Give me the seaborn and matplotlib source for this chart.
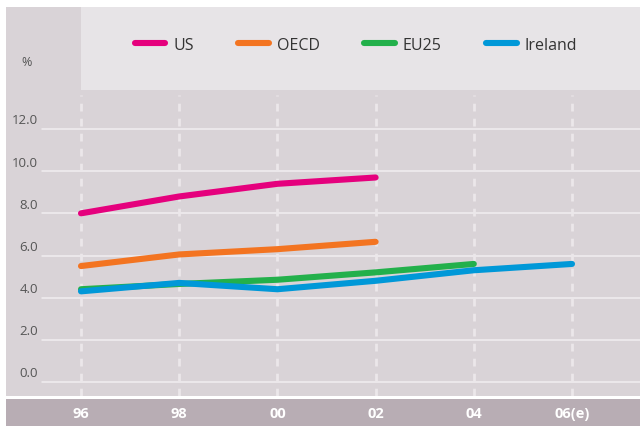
import numpy as np
import pandas as pd
import matplotlib
matplotlib.use("Agg")
import matplotlib.pyplot as plt
from matplotlib.patches import Rectangle
import seaborn as sns

# data
years = ["96", "98", "00", "02", "04", "06(e)"]
us = [8.0, 8.8, 9.4, 9.7]
oecd = [5.5, 6.05, 6.3, 6.65]
eu25 = [4.4, 4.65, 4.85, 5.2, 5.6]
ireland = [4.3, 4.7, 4.4, 4.8, 5.3, 5.6]
yticks = [0.0, 2.0, 4.0, 6.0, 8.0, 10.0, 12.0]

series = {"US": us, "OECD": oecd, "EU25": eu25, "Ireland": ireland}
colors = {"US": "#e5007d", "OECD": "#f37421", "EU25": "#23b04b", "Ireland": "#0098d8"}

rows = []
for name, vals in series.items():
    for i, v in enumerate(vals):
        rows.append({"pos": i, "value": v, "series": name})
df = pd.DataFrame(rows)

sns.set_theme(style="white")
plt.rcParams["font.family"] = ["Open Sans", "DejaVu Sans"]

W, H = 640, 427
fig = plt.figure(figsize=(6.4, 4.27), dpi=100)

# plot panel: x 6..640 px, y 8..397 px (from top)
ax = fig.add_axes([6 / W, 30 / H, 634 / W, 389 / H])
ax.set_facecolor("#d9d3d7")
for s in ax.spines.values():
    s.set_visible(False)

# pixel scale: 0.0 at y=383, 12.0 at y=130; 96 at x=81, step 98.2
ppu = (383 - 130) / 12.0
ax.set_ylim(-(397 - 383) / ppu, 12 + (130 - 8) / ppu)
step = (572 - 81) / 5
ax.set_xlim(-(81 - 6) / step, 5 + (640 - 572) / step)

# lighter legend box at the top
ax.add_patch(Rectangle(((81 - 6) / 634, (397 - 91) / 389), 1, 1,
                       transform=ax.transAxes, color="#e7e4e7", lw=0, zorder=0.5))

for v in yticks:
    ax.axhline(v, xmin=(42 - 6) / 634, color="#f1eef1", lw=1.1, zorder=1)
for i in range(len(years)):
    ax.axvline(i, ymin=0, ymax=(397 - 96) / 389, color="#ebe7ea", lw=2,
               ls=(0, (2.8, 2.6)), zorder=1)

sns.lineplot(data=df, x="pos", y="value", hue="series", palette=colors,
             hue_order=list(series), lw=4.4, solid_capstyle="round",
             legend=False, ax=ax, zorder=3)

data_lines = [l for l in ax.lines if len(l.get_xdata()) > 2]
ax.legend(data_lines, list(series), ncol=4, frameon=False, fontsize=11.5,
          handlelength=1.9, handletextpad=0.5, columnspacing=2.8,
          loc="center", bbox_to_anchor=(356 / W, 1 - 46 / H),
          bbox_transform=fig.transFigure, labelcolor="#333333")

ax.set_yticks([])
for v in yticks:
    ax.text((38 - 6) / 634, v + 9 / ppu, f"{v:.1f}", ha="right", va="center",
            fontsize=9.5, color="#555555",
            transform=ax.get_yaxis_transform())
ax.text((27 - 6) / 634, (397 - 63) / 389, "%", ha="center", va="center",
        fontsize=9, color="#555555", transform=ax.transAxes)

ax.set_xlabel("")
ax.set_ylabel("")
ax.set_xticks(range(len(years)))
ax.set_xticklabels(years, color="white", fontweight="bold", fontsize=10.5)
ax.tick_params(axis="x", length=0, pad=7)

# bottom band behind the year labels
fig.patches.append(Rectangle((6 / W, 0), 1, 27 / H, transform=fig.transFigure,
                             color="#b8adb4", lw=0, zorder=-1))

fig.savefig("out.png", dpi=100)
